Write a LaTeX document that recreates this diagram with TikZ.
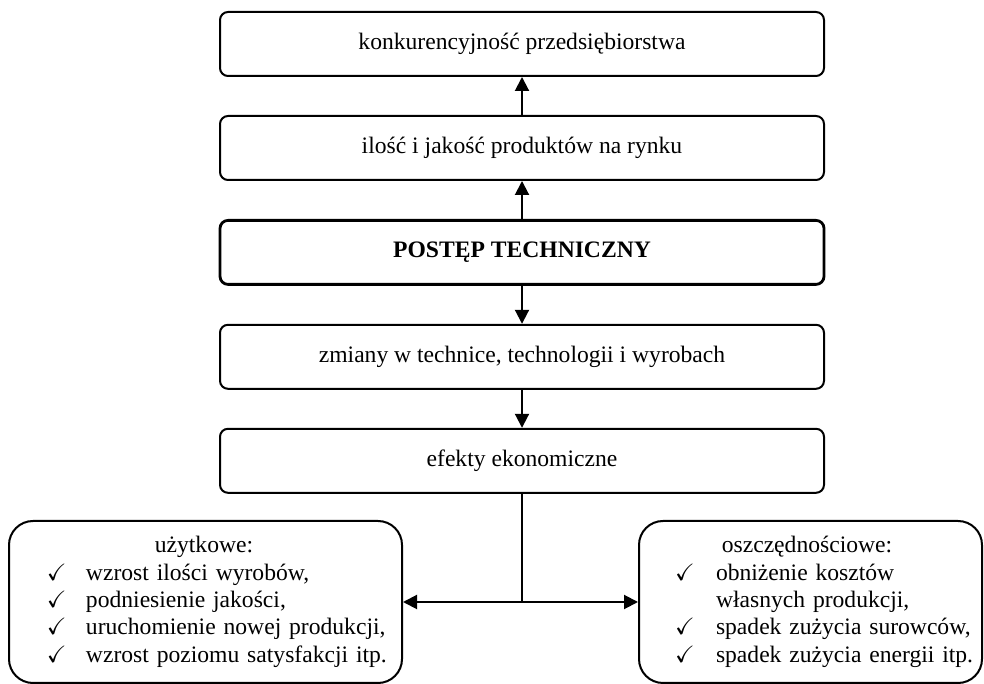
\documentclass[tikz,border=0pt]{standalone}
\usepackage{amssymb}
\usepackage{fontspec}
\setmainfont{Liberation Serif}
\usetikzlibrary{positioning, arrows.meta}

\tikzset{
    box/.style={draw, rounded corners=4pt, line width=1pt,
        minimum width=302pt, minimum height=32pt,
        font=\fontsize{11.8}{13.7}\selectfont},
    mainbox/.style={box, line width=1.4pt,
        font=\fontsize{11.8}{13.7}\selectfont\bfseries},
    effbox/.style={draw, rounded corners=12pt, line width=1pt,
        minimum height=81pt, inner xsep=0pt, align=left,
        font=\fontsize{11.8}{13.7}\selectfont},
    link/.style={line width=1pt, -{Triangle[length=7pt, width=7pt]}},
}

\begin{document}
\begin{tikzpicture}[node distance=19pt]
    \useasboundingbox (0,0) rectangle (492pt,342pt);

    % ;- main chain ;-
    \node[box] (konk) at (261pt,320pt) {konkurencyjność przedsiębiorstwa};
    \node[box, below=of konk] (ilosc) {ilość i jakość produktów na rynku};
    \node[mainbox, below=of ilosc] (postep) {POSTĘP TECHNICZNY};
    \node[box, below=of postep] (zmiany) {zmiany w technice, technologii i wyrobach};
    \node[box, below=of zmiany] (efekty) {efekty ekonomiczne};

    \draw[link] (ilosc) -- (konk);
    \draw[link] (postep) -- (ilosc);
    \draw[link] (postep) -- (zmiany);
    \draw[link] (zmiany) -- (efekty);

    % ;- kinds of effects ;-
    \node[effbox, text width=196.5pt] (uzyt) at (102.75pt,41pt) {%
        \begin{tabular}{@{\hspace{19pt}}p{19.5pt}@{}l@{}}
            \multicolumn{2}{@{\hspace{19pt}}l}{\makebox[157pt]{użytkowe:}}\\
            $\checkmark$ & wzrost ilości wyrobów,\\
            $\checkmark$ & podniesienie jakości,\\
            $\checkmark$ & uruchomienie nowej produkcji,\\
            $\checkmark$ & wzrost poziomu satysfakcji itp.
        \end{tabular}};
    \node[effbox, text width=171.5pt] (oszcz) at (405.25pt,41pt) {%
        \begin{tabular}{@{\hspace{18pt}}p{20.5pt}@{}l@{}}
            \multicolumn{2}{@{\hspace{18pt}}l}{\makebox[132pt]{oszczędnościowe:}}\\
            $\checkmark$ & obniżenie kosztów\\
                         & własnych produkcji,\\
            $\checkmark$ & spadek zużycia surowców,\\
            $\checkmark$ & spadek zużycia energii itp.
        \end{tabular}};

    % split below efekty
    \coordinate (split) at (efekty.south |- uzyt.east);
    \draw[line width=1pt] (efekty) -- (split);
    \draw[link] (split) -- (uzyt);
    \draw[link] (split) -- (oszcz);

\end{tikzpicture}
\end{document}
